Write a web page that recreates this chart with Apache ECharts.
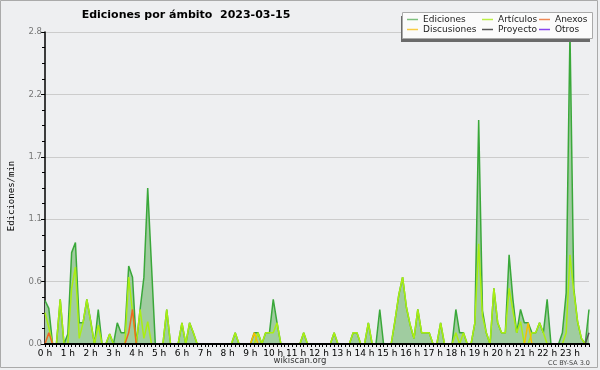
<!DOCTYPE html>
<html>
<head>
<meta charset="utf-8">
<script src="https://cdn.jsdelivr.net/npm/echarts@6/dist/echarts.min.js"></script>
<style>
html,body{margin:0;padding:0;background:#eeeff1;}
#chart{width:600px;height:370px;}
</style>
</head>
<body>
<div id="chart"></div>
<script>
// Tick labels
const hourLabels = ['0 h','1 h','2 h','3 h','4 h','5 h','6 h','7 h','8 h','9 h','10 h','11 h',
  '12 h','13 h','14 h','15 h','16 h','17 h','18 h','19 h','20 h','21 h','22 h','23 h'];
const yTickLabels = ['0.0','0.6','1.1','1.7','2.2','2.8'];
const seriesNames = ['Ediciones','Artículos','Anexos','Discusiones','Proyecto','Otros'];

// 10-minute slots, 6 per hour
const ediciones = [
  0.39,0.32,0,0,0.40,0,
  0.09,0.82,0.91,0.19,0.19,0.40,
  0.21,0,0.31,0,0,0.09,
  0,0.19,0.10,0.10,0.70,0.60,
  0,0.31,0.60,1.40,0.70,0,
  0,0,0.31,0,0,0,
  0.19,0,0.19,0.10,0,0,
  0,0,0,0,0,0,
  0,0,0.10,0,0,0,
  0,0.10,0.10,0,0.10,0.10,
  0.40,0.19,0,0,0,0,
  0,0,0.10,0,0,0,
  0,0,0,0,0.10,0,
  0,0,0,0.10,0.10,0,
  0,0.19,0,0,0.31,0,
  0,0,0.21,0.44,0.60,0.33,
  0.17,0.05,0.31,0.10,0.10,0.10,
  0,0,0.19,0,0,0,
  0.31,0.10,0.10,0,0,0.19,
  2.01,0.30,0.10,0,0.50,0.19,
  0.10,0.10,0.80,0.40,0.10,0.31,
  0.19,0.19,0.10,0.10,0.19,0.10,
  0.40,0,0,0,0.10,0.46,
  2.80,0.50,0.20,0.05,0,0.31
];
const articulos = [
  0.28,0.15,0,0,0.40,0,
  0,0.50,0.69,0.05,0.19,0.40,
  0.20,0,0.17,0,0,0.09,
  0,0,0,0,0.60,0.29,
  0,0.31,0.05,0.20,0,0,
  0,0,0.31,0,0,0,
  0.19,0,0.19,0.10,0,0,
  0,0,0,0,0,0,
  0,0,0.10,0,0,0,
  0,0,0.10,0,0.10,0.10,
  0.10,0.19,0,0,0,0,
  0,0,0.10,0,0,0,
  0,0,0,0,0.10,0,
  0,0,0,0.10,0.10,0,
  0,0.19,0,0,0,0,
  0,0,0.21,0.44,0.60,0.33,
  0.17,0.05,0.31,0.10,0.10,0.10,
  0,0,0.19,0,0,0,
  0.10,0,0.10,0,0,0.19,
  0.90,0.25,0.10,0,0.50,0.19,
  0.10,0.10,0.50,0.30,0.10,0.20,
  0,0,0.10,0.10,0.19,0.10,
  0,0,0,0,0,0.10,
  0.80,0.47,0.20,0.05,0,0
];
const anexos = [
  0,0.10,0,0,0,0,  0,0,0,0,0,0,  0,0,0,0,0,0,  0,0,0,0,0.10,0.31,
  0,0,0,0,0,0,  0,0,0,0,0,0,  0,0,0,0,0,0,  0,0,0,0,0,0,
  0,0,0,0,0,0,  0,0,0,0,0,0,  0,0,0,0,0,0,  0,0,0,0,0,0,
  0,0,0,0,0,0,  0,0,0,0,0,0,  0,0,0,0,0,0,  0,0,0,0,0,0,
  0,0,0,0,0,0,  0,0,0,0,0,0,  0,0,0,0,0,0,  0,0,0,0,0,0,
  0,0,0,0,0,0,  0,0,0,0,0,0,  0,0,0,0,0,0,  0,0,0,0,0,0
];
const discusiones = [
  0,0,0,0,0,0,  0,0,0,0,0,0,  0,0,0,0,0,0,  0,0,0,0,0,0,
  0,0,0,0,0,0,  0,0,0,0,0,0,  0,0,0,0,0,0,  0,0,0,0,0,0,
  0,0,0,0,0,0,  0,0.10,0,0,0,0,  0,0,0,0,0,0,  0,0,0,0,0,0,
  0,0,0,0,0,0,  0,0,0,0,0,0,  0,0,0,0,0,0,  0,0,0,0,0,0,
  0,0,0,0,0,0,  0,0,0,0,0,0,  0,0,0,0,0,0,  0,0,0,0,0,0,
  0,0,0,0,0,0,  0,0.19,0,0,0,0,  0,0,0,0,0,0,  0,0,0,0,0,0
];
const proyecto = [
  0,0,0,0,0,0,  0,0,0,0,0,0,  0,0,0,0,0,0,  0,0,0,0,0,0,
  0,0,0,0,0,0,  0,0,0,0,0,0,  0,0,0,0,0,0,  0,0,0,0,0,0,
  0,0,0,0,0,0,  0,0,0,0,0,0,  0,0,0,0,0,0,  0,0,0,0,0,0,
  0,0,0,0,0,0,  0,0,0,0,0,0,  0,0,0,0,0,0,  0,0,0,0,0,0,
  0,0,0,0,0,0,  0,0,0,0,0,0,  0,0,0,0,0,0,  0,0,0,0,0,0,
  0,0,0,0,0,0,  0,0,0,0,0,0,  0,0,0,0,0,0,  0,0,0,0,0,0.10
];
const otros = [
  0,0,0,0,0,0,  0,0,0,0,0,0,  0,0,0,0,0,0,  0,0,0,0,0,0,
  0,0,0,0,0,0,  0,0,0,0,0,0,  0,0,0,0,0,0,  0,0,0,0,0,0,
  0,0,0,0,0,0,  0,0,0,0,0,0,  0,0,0,0,0,0,  0,0,0,0,0,0,
  0,0,0,0,0,0,  0,0,0,0,0,0,  0,0,0,0,0,0,  0,0,0,0,0,0,
  0,0,0,0,0,0,  0,0,0,0,0,0,  0,0,0,0,0,0,  0,0,0,0,0,0,
  0,0,0,0,0,0,  0,0,0,0,0,0,  0,0,0,0,0,0,  0,0,0,0,0,0
];

const slotsPerHour = 6;
const categories = [];
for (let h = 0; h < hourLabels.length; h++) {
  for (let k = 0; k < slotsPerHour; k++) categories.push(h + ':' + (k * 10));
}

const chart = echarts.init(document.getElementById('chart'), null, {renderer: 'canvas'});

function lineSeries(name, data, color, iconColor, width, z, area) {
  const s = {
    name: name, type: 'line', data: data, showSymbol: false, symbol: 'none',
    z: z, animation: false,
    lineStyle: {color: color, width: width},
    itemStyle: {color: iconColor},
    emphasis: {disabled: true}
  };
  if (area) s.areaStyle = {color: area, opacity: 1};
  return s;
}

const legendBase = {
  orient: 'vertical', top: 14.5, itemGap: 0, itemWidth: 11, itemHeight: 1.5,
  icon: 'rect', selectedMode: false, z: 8, padding: 0,
  textStyle: {fontFamily: 'DejaVu Sans', fontSize: 9, color: '#222', lineHeight: 10}
};

chart.setOption({
  backgroundColor: '#eeeff1',
  animation: false,
  grid: {left: 45, right: 11, top: 32, bottom: 26},
  legend: [
    Object.assign({}, legendBase, {left: 407, data: [seriesNames[0], seriesNames[3]]}),
    Object.assign({}, legendBase, {left: 482, data: [seriesNames[1], seriesNames[4]]}),
    Object.assign({}, legendBase, {left: 539, data: [seriesNames[2], seriesNames[5]]})
  ],
  xAxis: {
    type: 'category', data: categories, boundaryGap: false, z: 5,
    axisLine: {lineStyle: {color: '#000', width: 2}},
    axisTick: {interval: 0, length: 3, lineStyle: {color: '#000'}},
    axisLabel: {
      interval: 0, margin: 5, color: '#000', fontFamily: 'DejaVu Sans', fontSize: 9,
      formatter: (v, idx) => idx % slotsPerHour === 0 ? hourLabels[idx / slotsPerHour] : ''
    },
    splitLine: {show: false}
  },
  yAxis: {
    type: 'value', min: 0, max: 2.8, interval: 0.56,
    axisLine: {show: true, lineStyle: {color: '#000', width: 1.5}},
    axisTick: {show: true, length: 4, lineStyle: {color: '#000'}},
    minorTick: {show: true, splitNumber: 4, length: 3, lineStyle: {color: '#000'}},
    axisLabel: {
      margin: 3, color: '#777', fontFamily: 'DejaVu Sans', fontSize: 8.5,
      formatter: (v) => yTickLabels[Math.round(v / 0.56)] || ''
    },
    splitLine: {show: true, lineStyle: {color: '#cccccc', width: 1}}
  },
  series: [
    lineSeries(seriesNames[0], ediciones, '#3aa83a', '#7ec07e', 1.5, 2, '#a0cca0'),
    lineSeries(seriesNames[1], articulos, '#aaee11', '#bbee44', 1.5, 3),
    lineSeries(seriesNames[2], anexos, '#ee6622', '#ee8855', 1.5, 4),
    lineSeries(seriesNames[3], discusiones, '#f5c000', '#f8cc44', 1.5, 4),
    lineSeries(seriesNames[4], proyecto, '#555555', '#555555', 1.5, 4),
    lineSeries(seriesNames[5], otros, '#8844ee', '#8844ee', 1.5, 4)
  ],
  graphic: [
    {type: 'rect', z: 0, silent: true, shape: {x: 0.5, y: 0.5, width: 597, height: 367},
      style: {fill: null, stroke: '#aaaaaa', lineWidth: 1}},
    {type: 'text', z: 10, x: 186, y: 15, silent: true,
      style: {text: 'Ediciones por ámbito  2023-03-15', fontFamily: 'DejaVu Sans', fontWeight: 'bold',
        fontSize: 11, fill: '#000', textAlign: 'center', textVerticalAlign: 'middle'}},
    {type: 'text', z: 10, x: 12, y: 196, rotation: Math.PI / 2, silent: true,
      style: {text: 'Ediciones/min', fontFamily: 'DejaVu Sans Mono', fontSize: 9, fill: '#000',
        textAlign: 'center', textVerticalAlign: 'middle'}},
    {type: 'text', z: 10, x: 300, y: 361, silent: true,
      style: {text: 'wikiscan.org', fontFamily: 'DejaVu Sans', fontSize: 8.5, fill: '#333',
        textAlign: 'center', textVerticalAlign: 'middle'}},
    {type: 'text', z: 10, x: 590, y: 363, silent: true,
      style: {text: 'CC BY-SA 3.0', fontFamily: 'DejaVu Sans', fontSize: 6.5, fill: '#444',
        textAlign: 'right', textVerticalAlign: 'middle'}},
    {type: 'rect', z: 6, silent: true, shape: {x: 401, y: 16, width: 189, height: 26},
      style: {fill: '#6a6a6a'}},
    {type: 'rect', z: 7, silent: true, shape: {x: 402.5, y: 12.5, width: 190, height: 26},
      style: {fill: '#fbfbfb', stroke: '#aaaaaa', lineWidth: 1}}
  ]
});
</script>
</body>
</html>
